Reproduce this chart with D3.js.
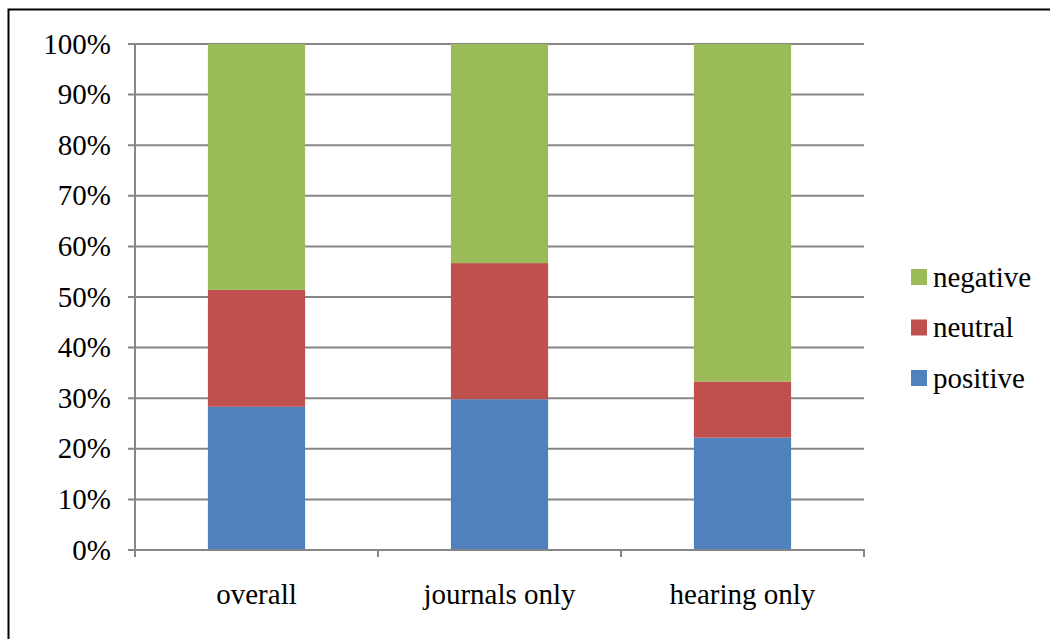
<!DOCTYPE html>
<html>
<head>
<meta charset="utf-8">
<script src="https://cdn.jsdelivr.net/npm/d3@7"></script>
<style>
  html, body { margin: 0; padding: 0; background: #fff; }
  svg { display: block; }
  text { font-family: "Liberation Serif", "Times New Roman", serif; fill: #000; }
</style>
</head>
<body>
<svg id="chart" width="1050" height="639"></svg>
<script>
// Response shares by source
const categories = ["overall", "journals only", "hearing only"];
const seriesNames = ["positive", "neutral", "negative"];
const positive = [0.283, 0.298, 0.222];
const neutral  = [0.231, 0.269, 0.111];
const negative = [0.486, 0.433, 0.667];
const yTicks = [0, 0.1, 0.2, 0.3, 0.4, 0.5, 0.6, 0.7, 0.8, 0.9, 1.0];
const colors = { positive: "#4F81BD", neutral: "#C0504D", negative: "#9BBB59" };

const fontSize = "29px";
const svg = d3.select("#chart");

// outer frame
svg.append("rect")
  .attr("x", 8.5).attr("y", 9.5)
  .attr("width", 1100).attr("height", 700)
  .attr("fill", "none").attr("stroke", "#000").attr("stroke-width", 2);

const plot = { left: 135, right: 864, top: 44, bottom: 550 };

const x = d3.scaleBand()
  .domain(categories)
  .range([plot.left, plot.right])
  .paddingInner(0.6)
  .paddingOuter(0.3);

const xOuter = d3.scaleBand().domain(categories).range([plot.left, plot.right]);

const y = d3.scaleLinear().domain([0, 1]).range([plot.bottom, plot.top]);

// horizontal gridlines with short left ticks
svg.append("g")
  .selectAll("line")
  .data(yTicks)
  .join("line")
  .attr("x1", plot.left - 7).attr("x2", plot.right)
  .attr("y1", d => y(d)).attr("y2", d => y(d))
  .attr("stroke", "#868686").attr("stroke-width", 2);

// y tick labels
svg.append("g")
  .selectAll("text")
  .data(yTicks)
  .join("text")
  .attr("x", 111)
  .attr("y", d => y(d))
  .attr("dy", "0.33em")
  .attr("text-anchor", "end")
  .style("font-size", fontSize)
  .text(d => d3.format(".0%")(d));

// stacked bars
const rows = categories.map((c, i) => ({ category: c, positive: positive[i], neutral: neutral[i], negative: negative[i] }));
const stacked = d3.stack().keys(seriesNames)(rows);

svg.append("g")
  .selectAll("g")
  .data(stacked)
  .join("g")
  .attr("fill", d => colors[d.key])
  .selectAll("rect")
  .data(d => d)
  .join("rect")
  .attr("x", d => x(d.data.category))
  .attr("width", x.bandwidth())
  .attr("y", d => y(d[1]))
  .attr("height", d => y(d[0]) - y(d[1]));

// y axis line
svg.append("line")
  .attr("x1", plot.left).attr("x2", plot.left)
  .attr("y1", plot.top).attr("y2", plot.bottom)
  .attr("stroke", "#868686").attr("stroke-width", 2);

// x axis line and category separators
svg.append("line")
  .attr("x1", plot.left - 7).attr("x2", plot.right + 1)
  .attr("y1", plot.bottom).attr("y2", plot.bottom)
  .attr("stroke", "#868686").attr("stroke-width", 2);

const sepX = categories.map(c => xOuter(c)).concat([plot.right]);
svg.append("g")
  .selectAll("line")
  .data(sepX)
  .join("line")
  .attr("x1", d => d).attr("x2", d => d)
  .attr("y1", plot.bottom).attr("y2", plot.bottom + 7)
  .attr("stroke", "#868686").attr("stroke-width", 2);

// category labels
svg.append("g")
  .selectAll("text")
  .data(categories)
  .join("text")
  .attr("x", d => x(d) + x.bandwidth() / 2)
  .attr("y", 604)
  .attr("text-anchor", "middle")
  .style("font-size", fontSize)
  .text(d => d);

// legend (top-down: negative, neutral, positive)
const legendItems = seriesNames.slice().reverse();
const legend = svg.append("g")
  .selectAll("g")
  .data(legendItems)
  .join("g")
  .attr("transform", (d, i) => `translate(911, ${277 + i * 50.5})`);

legend.append("rect")
  .attr("x", 0).attr("y", -8)
  .attr("width", 16).attr("height", 16)
  .attr("fill", d => colors[d]);

legend.append("text")
  .attr("x", 22).attr("y", 0)
  .attr("dy", "0.33em")
  .style("font-size", fontSize)
  .text(d => d);
</script>
</body>
</html>
